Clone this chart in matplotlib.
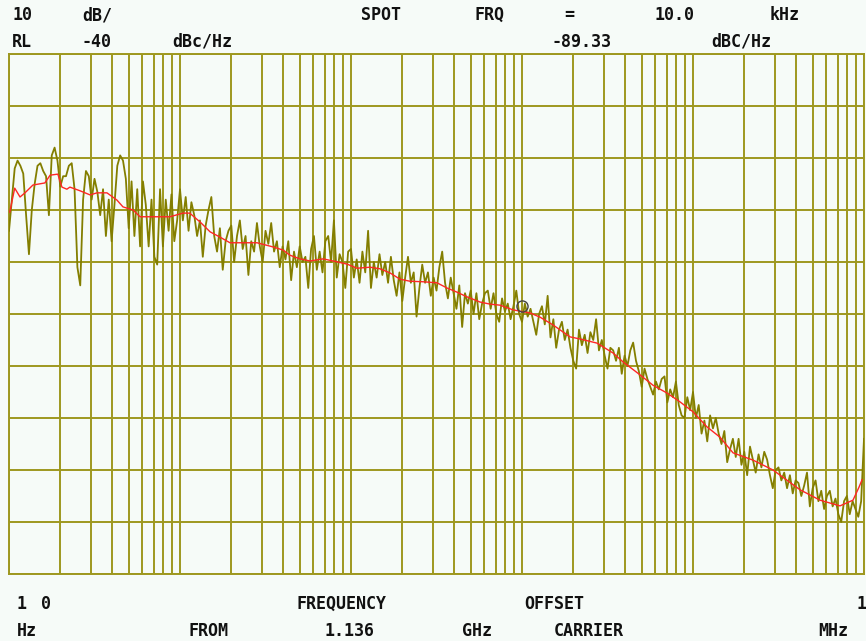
import numpy as np
import matplotlib
matplotlib.use('Agg')
from matplotlib import pyplot as plt
from matplotlib import ticker


# Sweep from 10 Hz to 1 MHz offset, 301 points (60 per decade)
sweep_freq = np.logspace(1, 6, 301)

# Raw phase noise trace [dBc/Hz], grouped by decade
trace_level = [
    # 10 Hz - 100 Hz
    -74, -68, -62, -60.5, -61.5, -63, -71, -78.5, -70, -65,
    -61.5, -61, -62.5, -63.5, -71, -59.5, -58, -60.5, -65.5, -63.5,
    -63.5, -61.5, -61, -66, -81, -84.5, -68, -62.5, -63.5, -68,
    -64, -66.5, -71, -66, -75, -68, -76, -69, -61.5, -59.5,
    -60.5, -64, -73.5, -64.5, -75, -66, -77, -64.5, -69, -77,
    -68, -79, -80.5, -66, -77, -68, -74, -67, -76, -72,
    -66,
    # 100 Hz - 1 kHz
    -72, -67.5, -74, -68.5, -71, -75, -72, -79, -73, -70,
    -67.5, -75, -78, -73.5, -81.5, -76, -74, -73, -80, -75,
    -72, -77.5, -75, -82.5, -76, -78, -72.5, -77, -80, -74,
    -76.5, -72.5, -78, -76, -81, -77, -79.5, -76, -83.5, -78,
    -81, -77, -80, -79, -85, -77.5, -75, -81.5, -78, -82,
    -76, -75, -80, -72, -83, -78.5, -80, -85, -78, -77.5,
    # 1 kHz - 10 kHz
    -83, -79.5, -84, -78, -82, -74, -85, -80, -83, -78.5,
    -82.5, -80, -84, -79, -83.5, -86.5, -82, -87.5, -83, -79,
    -84, -82, -90.5, -85, -80.5, -84, -82, -86.5, -83, -85.5,
    -81, -78, -84, -87, -83, -86, -89, -84.5, -92.5, -86,
    -88, -85.5, -90, -86, -91, -88, -86, -85.5, -89, -86,
    -90, -91.5, -87, -89.5, -88, -91, -88.5, -85.5, -90, -91.5,
    # 10 kHz - 100 kHz
    -88, -90.5, -89, -91.5, -94, -90, -88.5, -92, -86.5, -94.5,
    -91, -96.5, -93, -91.5, -95, -93, -96.5, -99, -100.5, -93,
    -96, -94, -97.5, -93.5, -95, -91, -97, -95, -98, -100.5,
    -96.5, -97, -99, -96.5, -101.5, -98, -100, -97, -95.5, -99,
    -101, -104, -100.5, -102.5, -104, -105.5, -103, -104.5, -102.5, -102,
    -107, -104.5, -106, -103, -107.5, -109.5, -110, -106, -108.5, -105,
    # 100 kHz - 1 MHz
    -110, -107.5, -113, -110.5, -114.5, -109.5, -112, -110, -113, -115,
    -112.5, -118.5, -116, -114, -117.5, -114, -119, -116.5, -121, -115.5,
    -118, -120.5, -117, -119.5, -116.5, -118, -121, -123.5, -120, -119.5,
    -122, -120.5, -123.5, -121, -124.5, -122, -122.5, -125, -123, -120.5,
    -127, -123.5, -122, -126, -124, -127.5, -125, -124, -127, -125.5,
    -128.5, -130, -126, -125, -128.5, -126, -127.5, -129, -126, -114,
]

# Smoothed trace (red)
smooth_freq = [10.1, 10.8, 11.6, 12.4, 13.8, 16.2, 17.4, 19.3, 20.4, 21.8,
               22.7, 26.0, 29.8, 32.7, 37.4, 42.8, 46.4, 53.1, 58.4, 76.4,
               87.4, 104, 114, 131, 150, 171, 196, 282, 350, 400,
               440, 503, 576, 686, 785, 948, 1084, 1292, 1477, 1691,
               1934, 2213, 2637, 3184, 3642, 4167, 4769, 5680, 6500, 7434,
               8859, 11140, 12740, 15180, 19090, 21840, 27460, 34060, 38960, 48980,
               58370, 70470, 83950, 100000, 120700, 143900, 171400, 224300, 293700, 422400,
               552800, 723600, 862300, 935000, 973500]
smooth_level = [-70.4, -65.8, -67.5, -66.7, -65.2, -64.8, -63.3, -63.1, -65.6, -66.0,
                -65.6, -66.3, -67.1, -66.7, -66.7, -68.1, -69.4, -70.0, -71.3, -71.3,
                -71.3, -70.6, -70.6, -72.3, -74.2, -75.2, -76.3, -76.3, -77.1, -77.7,
                -78.7, -79.4, -79.8, -79.4, -79.8, -80.4, -81.2, -81.0, -81.3, -82.1,
                -83.3, -83.7, -83.8, -84.0, -85.0, -85.8, -86.7, -87.7, -88.1, -88.3,
                -89.2, -89.8, -90.6, -92.1, -94.4, -94.8, -95.6, -97.5, -99.2, -101.7,
                -103.7, -105.2, -106.9, -108.8, -111.7, -113.7, -116.7, -118.1, -120.0, -123.8,
                -125.8, -126.9, -125.8, -123.3, -121.9]

# Spot marker
marker_freq = 10e3
marker_level = -88.4

# Screen annotations (text, left x px, center y px)
header = [('10', 12, 15), ('dB/', 82, 15), ('SPOT', 361, 15), ('FRQ', 474, 15),
          ('=', 564, 15), ('10.0', 655, 15), ('kHz', 770, 15),
          ('RL', 12, 42), ('-40', 81, 42), ('dBc/Hz', 172, 42),
          ('-89.33', 552, 42), ('dBC/Hz', 711, 42)]
footer = [('1', 17, 604), ('0', 41, 604), ('FREQUENCY', 296, 604),
          ('OFFSET', 524, 604), ('1', 856, 604),
          ('Hz', 17, 631), ('FROM', 189, 631), ('1.136', 325, 631),
          ('GHz', 462, 631), ('CARRIER', 554, 631), ('MHz', 818, 631)]

bg = '#f6fbf8'
grid_col = '#9e9820'
trace_col = '#837e00'
red_col = '#ff2626'

W, H = 866, 641
fig = plt.figure(figsize=(W / 100, H / 100), dpi=100)
fig.patch.set_facecolor(bg)
ax = fig.add_axes([9 / W, (H - 574) / H, 855 / W, 520 / H])
ax.set_facecolor(bg)

ax.plot(sweep_freq, trace_level, color=trace_col, lw=1.3, zorder=3)
ax.plot(smooth_freq, smooth_level, color=red_col, lw=1.0, zorder=4)
ax.plot([marker_freq], [marker_level], 'o', ms=8, mfc='none', mec='#444444',
        mew=1.0, zorder=5)

ax.set_xscale('log')
ax.set_xlim(10, 1e6)
ax.set_ylim(-140, -40)
ax.set_yticks(np.arange(-140, -39, 10))
ax.xaxis.set_major_locator(ticker.LogLocator(base=10, numticks=20))
ax.xaxis.set_minor_locator(ticker.LogLocator(base=10, subs=np.arange(2, 10), numticks=100))
ax.tick_params(which='both', length=0, labelbottom=False, labelleft=False)
ax.xaxis.grid(True, which='both', color=grid_col, lw=1.4)
ax.yaxis.grid(True, which='major', color=grid_col, lw=1.4)
ax.set_axisbelow(True)
for s in ax.spines.values():
    s.set_color(grid_col)
    s.set_linewidth(1.4)

for txt, x, y in header + footer:
    fig.text(x / W, 1 - y / H, txt, ha='left', va='center', fontsize=12,
             family='DejaVu Sans Mono', weight='bold', color='#111111')

fig.savefig('out.png', dpi=100, facecolor=bg)
